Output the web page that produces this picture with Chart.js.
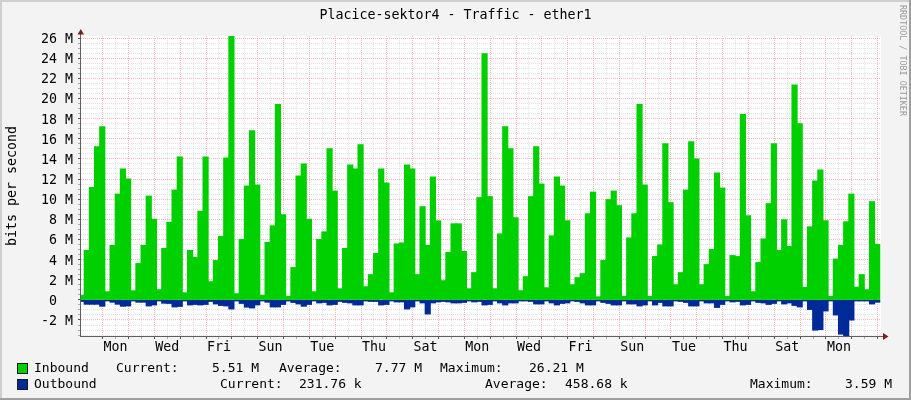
<!DOCTYPE html>
<html>
<head>
<meta charset="utf-8">
<script src="https://cdn.jsdelivr.net/npm/chart.js@4"></script>
<style>
html,body{margin:0;padding:0;background:#F3F3F3;overflow:hidden}
canvas{display:block}
</style>
</head>
<body>
<canvas id="c" width="911" height="400"></canvas>
<script>
const titleText = 'Placice-sektor4 - Traffic - ether1';
const yAxisTitle = 'bits per second';
const watermark = 'RRDTOOL / TOBI OETIKER';
const dayLabels = ['Mon','Wed','Fri','Sun','Tue','Thu','Sat','Mon','Wed','Fri','Sun','Tue','Thu','Sat','Mon'];

// Mbit/s per sample, 5 samples per day
const inbound = [
 0.45,4.9,11.15,15.2,17.2,0.8,5.4,10.5,13.0,12.0,0.9,3.6,5.4,10.3,8.0,1.0,5.1,7.7,10.9,14.2,0.7,4.9,4.2,8.8,14.2,1.8,3.9,6.3,14.1,26.21,0.6,6.0,11.3,16.8,11.4,0.45,5.7,7.35,19.4,8.45,0.35,3.2,12.3,
 13.5,8.0,0.8,6.0,6.75,15.0,10.8,1.1,5.1,13.4,13.0,15.4,1.3,2.5,4.6,13.0,11.6,0.7,5.55,5.65,13.4,13.0,2.5,9.25,5.4,12.2,7.85,1.9,4.7,7.55,7.55,4.8,1.1,2.7,10.15,24.45,10.25,1.1,6.55,17.2,15.0,8.15,0.9,2.3,10.25,15.2,11.5,1.2,6.35,12.2,11.3,7.85,1.5,2.2,2.6,8.55,10.7,0.3,
 3.9,9.95,10.8,9.35,0.35,6.15,8.55,19.4,11.4,0.35,4.3,5.45,15.5,9.65,1.5,2.7,10.9,15.7,14.0,1.5,3.5,5.0,12.6,11.1,0.35,4.4,4.3,18.4,8.35,0.8,3.7,6.05,9.55,15.5,4.9,7.95,5.3,21.35,17.5,1.25,7.25,11.8,12.9,7.85,0.35,4.05,5.4,7.75,10.5,1.25,2.5,1.0,9.75,5.51
];
const outbound = [
 -0.15,-0.43,-0.43,-0.43,-0.63,-0.1,-0.23,-0.43,-0.63,-0.6,-0.1,-0.23,-0.23,-0.6,-0.5,-0.1,-0.33,-0.35,-0.7,-0.65,-0.1,-0.5,-0.45,-0.5,-0.45,-0.15,-0.4,-0.55,-0.6,-0.9,-0.1,-0.35,-0.72,-0.8,-0.5,-0.1,-0.23,-0.7,-0.7,-0.45,-0.1,-0.25,-0.4,
 -0.63,-0.45,-0.1,-0.3,-0.25,-0.5,-0.45,-0.15,-0.25,-0.3,-0.5,-0.5,-0.1,-0.15,-0.15,-0.5,-0.45,-0.1,-0.2,-0.2,-0.9,-0.7,-0.1,-0.3,-1.4,-0.3,-0.2,-0.15,-0.2,-0.3,-0.3,-0.25,-0.1,-0.2,-0.15,-0.5,-0.45,-0.1,-0.3,-0.5,-0.3,-0.3,-0.1,-0.1,-0.15,-0.4,-0.4,-0.1,-0.3,-0.5,-0.35,-0.3,-0.1,-0.15,-0.3,-0.5,-0.5,-0.1,
 -0.25,-0.35,-0.5,-0.5,-0.1,-0.4,-0.4,-0.6,-0.5,-0.1,-0.5,-0.25,-0.6,-0.6,-0.1,-0.15,-0.25,-0.6,-0.6,-0.1,-0.3,-0.3,-0.75,-0.45,-0.1,-0.2,-0.15,-0.5,-0.45,-0.1,-0.25,-0.3,-0.45,-0.35,-0.1,-0.4,-0.3,-0.55,-0.7,-0.1,-0.95,-3.0,-2.95,-1.1,-0.1,-1.5,-3.4,-3.59,-2.0,-0.1,-0.1,-0.1,-0.4,-0.23
];
const legendInbound = [['Inbound',34],['Current:',116],['5.51 M',212],['Average:',279],['7.77 M',375],['Maximum:',440],['26.21 M',529]];
const legendOutbound = [['Outbound',34],['Current:',220],['231.76 k',299],['Average:',485],['458.68 k',565],['Maximum:',750],['3.59 M',845]];

const MONO = '"DejaVu Sans Mono"';
const GREEN = '#00CF00', BLUE = '#002A97';
const samplesPerDay = 5, firstSampleDay = -0.817, yMin = -3.59, yMax = 26.21;
const xMin = -0.84, xMax = 30.13;
const toPoints = arr => arr.map((v,i)=>({x:firstSampleDay + i/samplesPerDay, y:v}));
const RED_GRID='rgba(240,120,120,0.55)', GRAY_GRID='rgba(190,190,190,0.45)';
const isDay = c => c.tick && Number.isInteger(c.tick.value);
const isMajorY = c => c.tick && c.tick.value % 2 === 0;

const frame = {
  id:'frame',
  beforeDraw(ch){
    const c=ch.ctx, a=ch.chartArea;
    c.save();
    c.fillStyle='#F3F3F3'; c.fillRect(0,0,911,400);
    c.fillStyle='#CFCFCF'; c.fillRect(0,0,911,2); c.fillRect(0,0,2,400);
    c.fillStyle='#9E9E9E'; c.fillRect(0,398,911,2); c.fillRect(909,0,2,400);
    c.fillStyle='#FFFFFF'; c.fillRect(a.left,a.top,a.right-a.left,a.bottom-a.top);
    c.restore();
  },
  afterDraw(ch){
    const c=ch.ctx, a=ch.chartArea;
    c.save();
    c.strokeStyle='#5f5f5f'; c.lineWidth=1;
    c.beginPath();
    c.moveTo(a.left-0.5,a.bottom+0.5); c.lineTo(a.left-0.5,a.top-4);
    c.moveTo(a.left-1,a.bottom+0.5); c.lineTo(a.right+4,a.bottom+0.5);
    c.stroke();
    c.fillStyle='#7F1D1D';
    c.beginPath(); c.moveTo(a.left-3.5,34.5); c.lineTo(a.left+3,34.5); c.lineTo(a.left-0.2,29); c.closePath(); c.fill();
    c.beginPath(); c.moveTo(a.right+2,a.bottom-3); c.lineTo(a.right+2,a.bottom+4); c.lineTo(a.right+7.5,a.bottom+0.5); c.closePath(); c.fill();
    c.font='13px '+MONO; c.textBaseline='middle'; c.textAlign='left';
    [[legendInbound,368,GREEN],[legendOutbound,384,BLUE]].forEach(([items,y,col])=>{
      c.fillStyle=col; c.fillRect(18,y-4,9,9);
      c.strokeStyle='#1a1a1a'; c.lineWidth=1; c.strokeRect(17.5,y-4.5,10,10);
      c.fillStyle='#000';
      items.forEach(([t,x])=>c.fillText(t,x,y+1));
    });
    c.translate(902,5); c.rotate(Math.PI/2);
    c.font='8.4px '+MONO; c.fillStyle='#999999'; c.textBaseline='middle';
    c.fillText(watermark,0,0);
    c.restore();
  }
};

new Chart(document.getElementById('c'),{
  type:'bar',
  data:{datasets:[
    {label:'Inbound',data:toPoints(inbound),backgroundColor:GREEN,borderWidth:0,barPercentage:1,categoryPercentage:1,grouped:false,inflateAmount:0.5},
    {label:'Outbound',data:toPoints(outbound),backgroundColor:BLUE,borderWidth:0,barPercentage:1,categoryPercentage:1,grouped:false,inflateAmount:0.5}
  ]},
  plugins:[frame],
  options:{
    responsive:false,animation:false,devicePixelRatio:1,
    layout:{padding:0},
    plugins:{
      legend:{display:false},tooltip:{enabled:false},
      title:{display:true,text:titleText,color:'#000',font:{family:MONO,size:13.3,weight:'normal'},padding:{top:8,bottom:12}}
    },
    scales:{
      x:{type:'linear',offset:false,min:xMin,max:xMax,
        afterFit(s){s.height=64;},
        afterBuildTicks(s){const t=[];for(let d=0;d<=30.01;d+=0.5)t.push({value:d});s.ticks=t;},
        ticks:{autoSkip:false,maxRotation:0,color:'#000',font:{family:MONO,size:13.3},padding:1,
          callback(v){const k=(v-0.5)/2;return Number.isInteger(k)&&dayLabels[k]?dayLabels[k]:'';}},
        grid:{offset:false,color:c=>isDay(c)?RED_GRID:GRAY_GRID,tickColor:c=>isDay(c)?'#555':'#aaa',tickLength:3},
        border:{display:false,dash:[1,1]}
      },
      y:{type:'linear',min:yMin,max:yMax,
        afterFit(s){s.width=81;},
        afterBuildTicks(s){const t=[];for(let v=-3.5;v<=26.01;v+=0.5)t.push({value:v});s.ticks=t;},
        ticks:{autoSkip:false,color:'#000',font:{family:MONO,size:13.3},padding:5,labelOffset:1.5,
          callback(v){if(v%2!==0)return '';return v===0?'0  ':v+' M';}},
        title:{display:true,text:yAxisTitle,color:'#000',font:{family:MONO,size:13.3,weight:'normal'},padding:{top:5,bottom:0}},
        grid:{color:c=>isMajorY(c)?RED_GRID:GRAY_GRID,tickColor:c=>isMajorY(c)?'#555':'#aaa',tickLength:3},
        border:{display:false,dash:[1,1]}
      },
      rightGutter:{type:'linear',position:'right',display:true,min:0,max:1,
        afterFit(s){s.width=30;},
        ticks:{display:false},grid:{display:false,drawTicks:false},border:{display:false}
      }
    }
  }
});
</script>
</body>
</html>
